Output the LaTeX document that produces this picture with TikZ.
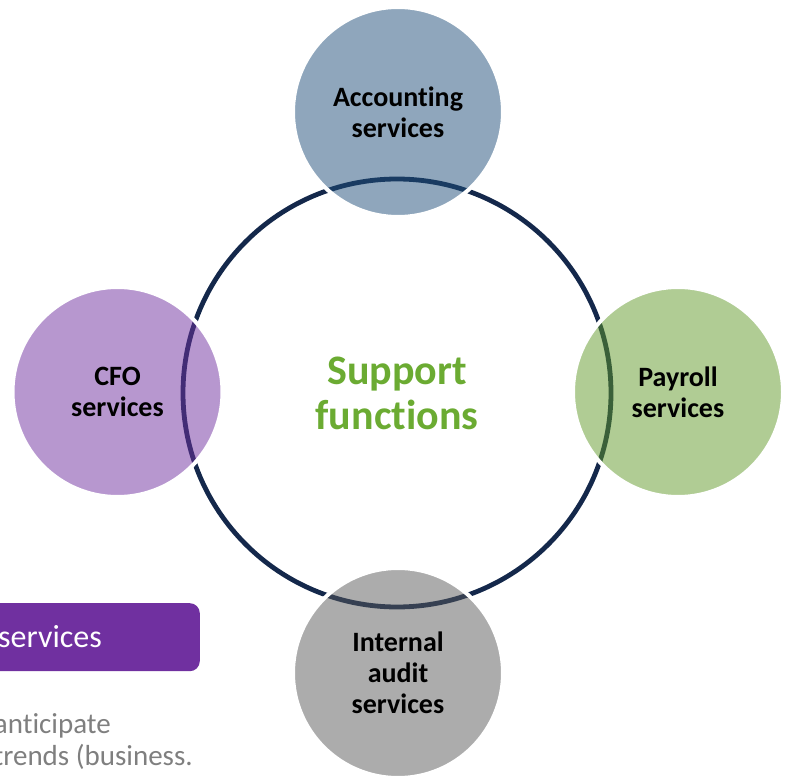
\documentclass[tikz,border=0pt]{standalone}
\usepackage{fontspec}
\setmainfont[Ligatures={NoCommon}]{Carlito}
\definecolor{navy}{HTML}{14284B}
\definecolor{accblue}{HTML}{1F4E79}
\definecolor{payg}{HTML}{619929}
\definecolor{cfop}{HTML}{7030A0}
\definecolor{auditg}{HTML}{595959}
\definecolor{suppg}{HTML}{6BAB32}
\definecolor{txtgray}{HTML}{7F7F7F}
\tikzset{
  svc/.style={circle, minimum size=210pt, inner sep=0pt, fill=#1, fill opacity=0.5,
    text opacity=1, draw=white, draw opacity=1, line width=4pt, align=center,
    font=\bfseries\fontsize{28}{31}\selectfont, text=black},
  hubstyle/.style={circle, minimum size=428pt, inner sep=0pt, draw=navy, line width=4.8pt,
    align=center, text=suppg, font=\bfseries\fontsize{42}{45}\selectfont}
}
\begin{document}
\begin{tikzpicture}[x=1pt,y=-1pt]
\useasboundingbox (0,0) rectangle (790,778);
\node[hubstyle] (hub) at (397,393) {Support\\functions};
\node[svc=accblue] (acc) at (398,112) {Accounting\\services};
\node[svc=payg] (pay) at (678,392) {Payroll\\services};
\node[svc=cfop] (cfo) at (117.5,392) {CFO\\services};
\node[svc=auditg] (aud) at (398,673) {Internal\\audit\\services};
\node[fill=cfop, rounded corners=10pt, minimum width=230pt, minimum height=68pt,
  inner sep=0pt, anchor=north east] (box) at (200,603) {};
\node[anchor=base east, inner sep=0pt, text=white, font=\fontsize{32}{36}\selectfont] (boxtxt) at (102,647) {services};
\node[anchor=base east, inner sep=0pt, text=txtgray, font=\fontsize{29}{32}\selectfont] (gt1) at (111,733) {anticipate};
\node[anchor=base east, inner sep=0pt, text=txtgray, font=\fontsize{29}{32}\selectfont] (gt2) at (193,765) {trends (business.};
\end{tikzpicture}
\end{document}
